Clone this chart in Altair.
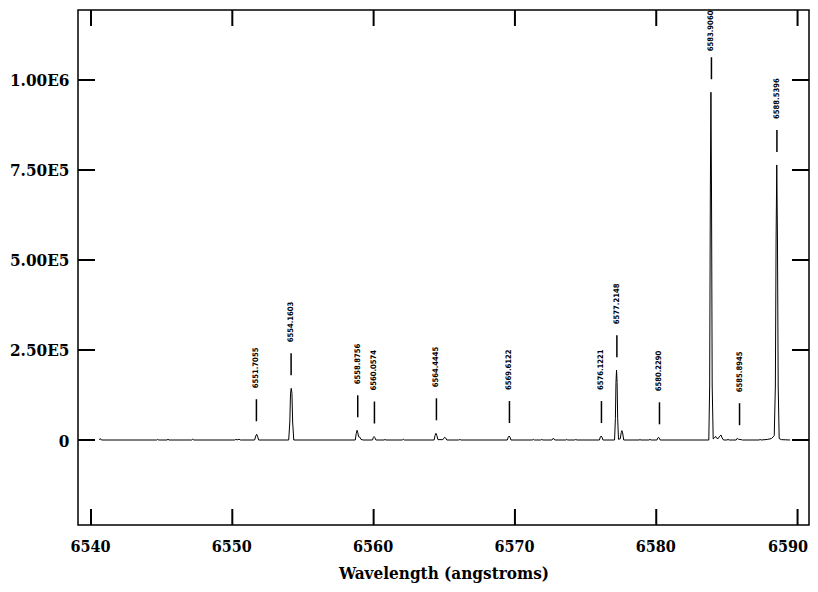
import altair as alt
import pandas as pd

# Spectrum points (wavelength in angstroms, intensity)
wavelength = [
    6540.60, 6540.66, 6540.74, 6544.65, 6544.72, 6544.80, 6545.38, 6545.45, 6545.52,
    6547.12, 6547.20, 6547.28, 6550.15, 6550.25, 6550.35, 6550.48, 6550.58,
    6551.58, 6551.66, 6551.72, 6551.78, 6551.86,
    6553.99, 6554.07, 6554.12, 6554.17, 6554.22, 6554.27, 6554.35,
    6558.70, 6558.77, 6558.83, 6558.88, 6558.94, 6559.02, 6559.10, 6559.25,
    6559.92, 6559.98, 6560.03, 6560.08, 6560.16,
    6560.74, 6560.81, 6560.88, 6562.02, 6562.10, 6562.18,
    6564.28, 6564.35, 6564.41, 6564.47, 6564.55, 6564.90, 6564.98, 6565.04, 6565.10, 6565.18,
    6566.02, 6566.10, 6566.18,
    6569.46, 6569.53, 6569.59, 6569.65, 6569.72,
    6571.22, 6571.30, 6571.38, 6571.82, 6571.90, 6571.98, 6572.62, 6572.72, 6572.82,
    6573.60, 6573.67, 6573.74, 6574.20, 6574.30, 6574.40,
    6575.98, 6576.04, 6576.10, 6576.16, 6576.23,
    6577.05, 6577.11, 6577.15, 6577.19, 6577.23, 6577.27, 6577.33, 6577.45, 6577.52,
    6577.57, 6577.62, 6577.70,
    6578.78, 6578.85, 6578.92, 6579.48, 6579.56, 6579.64,
    6580.05, 6580.11, 6580.16, 6580.21, 6580.28,
    6583.72, 6583.78, 6583.83, 6583.87, 6583.91, 6583.96, 6584.03, 6584.12, 6584.20,
    6584.28, 6584.38, 6584.46, 6584.58, 6584.66, 6584.76,
    6585.00, 6585.08, 6585.16, 6585.66, 6585.74, 6585.82, 6586.00, 6586.10,
    6587.28, 6587.35, 6587.42, 6587.85, 6588.15, 6588.35, 6588.43, 6588.48, 6588.53,
    6588.58, 6588.63, 6588.70, 6588.85, 6589.47,
]
intensity = [
    0, 4000, 0, 0, 1500, 0, 0, 2000, 0,
    0, 2500, 0, 0, 1500, 500, 2000, 0,
    0, 11000, 16000, 11000, 0,
    0, 50000, 130000, 143500, 130000, 50000, 0,
    0, 18000, 27000, 20000, 9000, 8000, 2000, 0,
    0, 7000, 9700, 7000, 0,
    0, 1500, 0, 0, 2000, 0,
    0, 13000, 18600, 13000, 1000, 1000, 5500, 7500, 5500, 0,
    0, 1500, 0,
    0, 8000, 11000, 8000, 0,
    0, 1500, 0, 0, 1500, 0, 0, 5000, 0,
    0, 1500, 0, 0, 1200, 0,
    0, 8000, 11000, 8000, 0,
    0, 60000, 160000, 194000, 160000, 60000, 2000, 3000, 20000,
    26000, 20000, 0,
    0, 1000, 0, 0, 1500, 0,
    0, 5500, 7500, 5500, 0,
    0, 150000, 700000, 966000, 700000, 150000, 3000, 6000, 10000,
    5000, 4000, 9000, 14000, 6000, 0,
    0, 1500, 0, 0, 5000, 2000, 1000, 0,
    0, 1500, 0, 1500, 4000, 12000, 150000, 550000, 764000,
    550000, 150000, 4000, 1000, 0,
]

# Identified lines: label, wavelength and local peak height
line_labels = ["6551.7055", "6554.1603", "6558.8756", "6560.0574", "6564.4445", "6569.6122",
               "6576.1221", "6577.2148", "6580.2290", "6583.9060", "6585.8945", "6588.5396"]
line_wavelength = [6551.7055, 6554.1603, 6558.8756, 6560.0574, 6564.4445, 6569.6122,
                   6576.1221, 6577.2148, 6580.2290, 6583.9060, 6585.8945, 6588.5396]
line_peak = [16000, 143500, 27000, 9700, 18600, 11000,
             11000, 194000, 7500, 966000, 5000, 764000]

x_ticks = [6540, 6550, 6560, 6570, 6580, 6590]
y_ticks = [0, 250000, 500000, 750000, 1000000]
y_tick_labels = ["0", "2.50E5", "5.00E5", "7.50E5", "1.00E6"]

W, H = 731, 515
X_DOMAIN = [6539.08, 6590.81]
Y_DOMAIN = [-236111, 1194444]
FONT = "DejaVu Serif Condensed"
SMALL_FONT = "DejaVu Sans Condensed"

spec_df = pd.DataFrame({"w": wavelength, "f": intensity})
lines_df = pd.DataFrame({"w": line_wavelength, "f": line_peak, "label": line_labels})
xt_df = pd.DataFrame({"w": x_ticks})
yt_df = pd.DataFrame({"f": y_ticks})

label_expr = ""
for v, lab in zip(y_ticks, y_tick_labels):
    label_expr += f"datum.value == {v} ? '{lab}' : "
label_expr += "''"

xs = alt.Scale(domain=X_DOMAIN, nice=False, zero=False)
ys = alt.Scale(domain=Y_DOMAIN, nice=False, zero=False)

x_axis = alt.Axis(
    values=x_ticks, title="Wavelength (angstroms)", ticks=False, domain=False, grid=False,
    labelFont=FONT, labelFontSize=16, labelFontWeight="bold", labelColor="black",
    labelPadding=13, titleFont=FONT, titleFontSize=17, titleFontWeight="bold",
    titleColor="black", titlePadding=11, format="d",
    labelOffset={"condition": {"test": f"datum.value == {x_ticks[-1]}", "value": -10},
                 "value": -1})
y_axis = alt.Axis(
    values=y_ticks, title=None, ticks=False, domain=False, grid=False,
    labelExpr=label_expr, labelFont=FONT, labelFontSize=17, labelFontWeight="bold",
    labelColor="black", labelPadding=9, labelOffset=1)

X = alt.X("w:Q", scale=xs, axis=x_axis)
Y = alt.Y("f:Q", scale=ys, axis=y_axis)

spectrum = alt.Chart(spec_df).mark_line(color="black", strokeWidth=1, clip=True).encode(
    x=X, y=Y)

markers = alt.Chart(lines_df).mark_rule(
    color="black", strokeWidth=1.5, yOffset=-13, y2Offset=-35).encode(
    x=X, y=Y, y2="f:Q")

text_style = dict(angle=270, align="left", baseline="middle",
                  font=SMALL_FONT, fontSize=7.6, fontWeight="bold", color="black")
labels = alt.Chart(lines_df).transform_filter("datum.f < 900000").mark_text(
    yOffset=-46, **text_style).encode(x=X, y=Y, text="label:N")
# the tallest line's label sits a little lower so that it stays inside the page
labels_top = alt.Chart(lines_df).transform_filter("datum.f >= 900000").mark_text(
    yOffset=-41, **text_style).encode(x=X, y=Y, text="label:N")

tick_style = dict(color="black", strokeWidth=2)
bottom_ticks = alt.Chart(xt_df).mark_rule(**tick_style).encode(
    x=X, y=alt.value(H), y2=alt.value(H - 16))
top_ticks = alt.Chart(xt_df).mark_rule(**tick_style).encode(
    x=X, y=alt.value(0), y2=alt.value(16))
left_ticks = alt.Chart(yt_df).mark_rule(**tick_style).encode(
    y=Y, x=alt.value(0), x2=alt.value(17))
right_ticks = alt.Chart(yt_df).mark_rule(**tick_style).encode(
    y=Y, x=alt.value(W), x2=alt.value(W - 17))

chart = alt.layer(
    spectrum, markers, labels, labels_top,
    bottom_ticks, top_ticks, left_ticks, right_ticks
).properties(
    width=W, height=H,
    autosize=alt.AutoSizeParams(type="none"),
    padding={"left": 70, "right": 1, "top": 2, "bottom": 59},
    background="white",
).configure_view(stroke="black", strokeWidth=1.5)

chart.save("out.html", embed_options={"renderer": "svg", "actions": False})
